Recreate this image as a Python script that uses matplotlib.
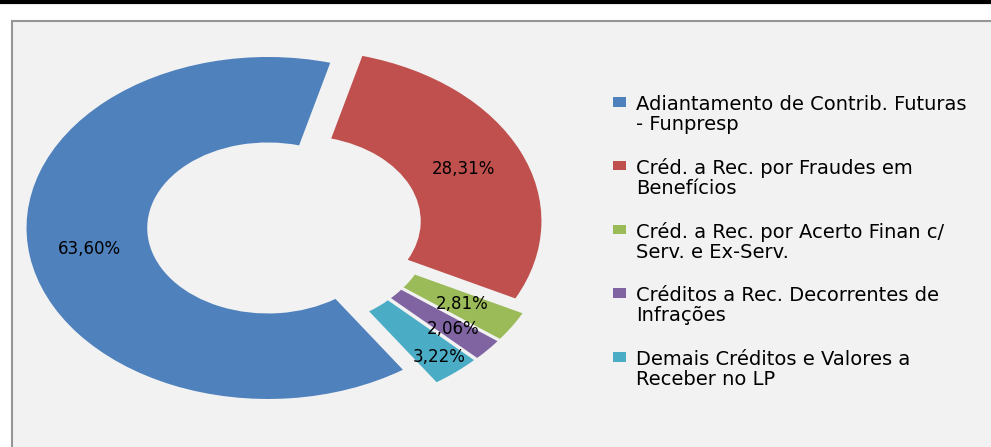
import matplotlib
matplotlib.use("Agg")
import matplotlib.pyplot as plt
import numpy as np
from matplotlib.patches import Rectangle

# ---------------- data ----------------
categories = [
    "Adiantamento de Contrib. Futuras\n- Funpresp",
    "Créd. a Rec. por Fraudes em\nBenefícios",
    "Créd. a Rec. por Acerto Finan c/\nServ. e Ex-Serv.",
    "Créditos a Rec. Decorrentes de\nInfrações",
    "Demais Créditos e Valores a\nReceber no LP",
]
values = [63.60, 28.31, 2.81, 2.06, 3.22]
pct_labels = ["63,60%", "28,31%", "2,81%", "2,06%", "3,22%"]

# ---------------- style ----------------
colors = ["#4F81BD", "#C0504D", "#9BBB59", "#8064A2", "#4BACC6"]
explode = [0.07, 0.07, 0.11, 0.11, 0.11]
label_dist = [0.75, 0.74, 0.756, 0.81, 0.89]
plt.rcParams["font.family"] = ["DejaVu Sans"]

W, H = 991, 447
fig = plt.figure(figsize=(W / 100, H / 100), dpi=100)
fig.patch.set_facecolor("white")

# background / frame in pixel coordinates
bg = fig.add_axes([0, 0, 1, 1])
bg.set_xlim(0, W)
bg.set_ylim(H, 0)
bg.axis("off")
bg.add_patch(Rectangle((11.5, 21), W + 40, H + 40, facecolor="#f2f2f2",
                       edgecolor="#969696", lw=1.5, zorder=0))
bg.plot([0, W], [2, 2], color="black", lw=3, solid_capstyle="butt", zorder=1)

# donut (elliptical: stretched horizontally)
cx, cy, Rx, Ry = 284.6, 226, 241.4, 171
ax = fig.add_axes([0, 0, 1, 1])
ax.patch.set_alpha(0)
wedges, _ = ax.pie(values, colors=colors, startangle=-56, counterclock=False,
                   radius=1, explode=explode,
                   wedgeprops=dict(width=0.5, linewidth=0))
ax.set_aspect("auto")
ax.set_xlim(-cx / Rx, (W - cx) / Rx)
ax.set_ylim(-(H - cy) / Ry, cy / Ry)
ax.axis("off")

for w, lab, d in zip(wedges, pct_labels, label_dist):
    th = np.deg2rad((w.theta1 + w.theta2) / 2)
    x0, y0 = w.center
    ax.text(x0 + d * np.cos(th), y0 + d * np.sin(th), lab, ha="center",
            va="center", fontsize=12, color="black")

# legend (manual, pixel coordinates)
y_first = 102
step = 63.7
for i, (cat, col) in enumerate(zip(categories, colors)):
    yl = y_first + i * step
    bg.add_patch(Rectangle((613, yl - 4.7), 12.7, 9.4, facecolor=col,
                           edgecolor="none", zorder=2))
    bg.text(636, yl + 12.5, cat, ha="left", va="center", fontsize=14,
            color="black", linespacing=1.08, zorder=2)

fig.savefig("out.png", dpi=100, facecolor="white")
